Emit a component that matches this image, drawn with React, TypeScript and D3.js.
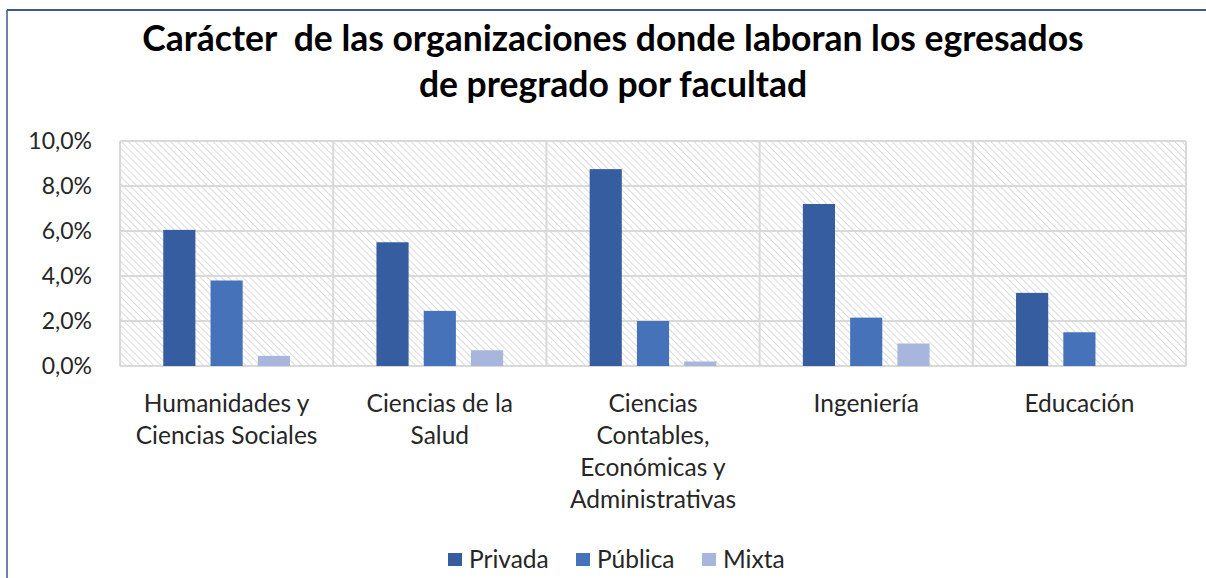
import * as d3 from "d3";

const categories = [
  "Humanidades y Ciencias Sociales",
  "Ciencias de la Salud",
  "Ciencias Contables, Económicas y Administrativas",
  "Ingeniería",
  "Educación",
];
const categoryLines = [
  ["Humanidades y", "Ciencias Sociales"],
  ["Ciencias de la", "Salud"],
  ["Ciencias", "Contables,", "Económicas y", "Administrativas"],
  ["Ingeniería"],
  ["Educación"],
];
const seriesNames = ["Privada", "Pública", "Mixta"];
const privada = [6.05, 5.5, 8.75, 7.2, 3.25];
const publica = [3.8, 2.45, 2.0, 2.15, 1.5];
const mixta = [0.45, 0.7, 0.2, 1.0, 0];
const yTicks = [0, 2, 4, 6, 8, 10];
const titleLines = [
  "Carácter\u00a0 de las organizaciones donde laboran los egresados",
  "de pregrado por facultad",
];

const seriesValues = [privada, publica, mixta];
const colors = ["#365D9F", "#4672B9", "#A8B5DC"];
const FONT = "Lato, 'Noto Sans', sans-serif";

export default function App() {
  const width = 1206;
  const height = 578;
  const left = 120;
  const right = 1186;
  const top = 141;
  const bottom = 366;

  const x = d3.scaleBand().domain(categories).range([left, right]).padding(0);
  const xs = d3
    .scaleBand()
    .domain(seriesNames)
    .range([0, x.bandwidth()])
    .paddingInner(0.32)
    .paddingOuter(0.915);
  const y = d3.scaleLinear().domain([0, 10]).range([bottom, top]);
  const fmt = (v: number) => d3.format(".1f")(v).replace(".", ",") + "%";

  const legendX = [448, 576, 702];

  return (
    <svg
      width={width}
      height={height}
      style={{ position: "absolute", left: 0, top: 0, background: "#fff" }}
      fontFamily={FONT}
    >
      <defs>
        <pattern
          id="hatch"
          patternUnits="userSpaceOnUse"
          width="5"
          height="5"
          patternTransform="rotate(-45)"
        >
          <rect width="5" height="5" fill="#fff" />
          <line x1="0" y1="0" x2="0" y2="5" stroke="#d8d8d8" strokeWidth="1.8" />
        </pattern>
      </defs>

      {/* outer border (partly cropped) */}
      <line x1={7} y1={10} x2={width} y2={10} stroke="#3B5A8A" strokeWidth={2} />
      <line x1={7} y1={10} x2={7} y2={height} stroke="#3B5A8A" strokeWidth={1.5} />

      {titleLines.map((t, i) => (
        <text
          key={t}
          x={613}
          y={51 + i * 46}
          textAnchor="middle"
          fontSize={35.5}
          fontWeight="bold"
          fill="#000"
        >
          {t}
        </text>
      ))}

      <rect
        x={left}
        y={top}
        width={right - left}
        height={bottom - top}
        fill="url(#hatch)"
      />

      {yTicks.map((t) => (
        <g key={t}>
          <line
            x1={left}
            x2={right}
            y1={y(t)}
            y2={y(t)}
            stroke="#d9d9d9"
            strokeWidth={2}
          />
          <text
            x={92}
            y={y(t)}
            dy="0.36em"
            textAnchor="end"
            fontSize={23}
            fill="#262626"
          >
            {fmt(t)}
          </text>
        </g>
      ))}

      {categories.map((c) => (
        <line
          key={c}
          x1={x(c)}
          x2={x(c)}
          y1={top}
          y2={bottom}
          stroke="#d9d9d9"
          strokeWidth={2}
        />
      ))}
      <line x1={right} x2={right} y1={top} y2={bottom} stroke="#d9d9d9" strokeWidth={2} />

      {seriesNames.map((s, si) =>
        categories.map((c, ci) => {
          const v = seriesValues[si][ci];
          if (!v) return null;
          return (
            <rect
              key={s + c}
              x={(x(c) ?? 0) + (xs(s) ?? 0)}
              y={y(v)}
              width={xs.bandwidth()}
              height={y(0) - y(v)}
              fill={colors[si]}
            />
          );
        })
      )}

      {categories.map((c, ci) => (
        <text
          key={c}
          x={(x(c) ?? 0) + x.bandwidth() / 2}
          y={412}
          textAnchor="middle"
          fontSize={24.5}
          fill="#262626"
        >
          {categoryLines[ci].map((l, li) => (
            <tspan key={l} x={(x(c) ?? 0) + x.bandwidth() / 2} dy={li === 0 ? 0 : 32}>
              {l}
            </tspan>
          ))}
        </text>
      ))}

      {seriesNames.map((s, si) => (
        <g key={s} transform={`translate(${legendX[si]},0)`}>
          <rect x={0} y={553} width={14} height={13} fill={colors[si]} />
          <text x={21} y={568} fontSize={24.5} fill="#262626">
            {s}
          </text>
        </g>
      ))}
    </svg>
  );
}
